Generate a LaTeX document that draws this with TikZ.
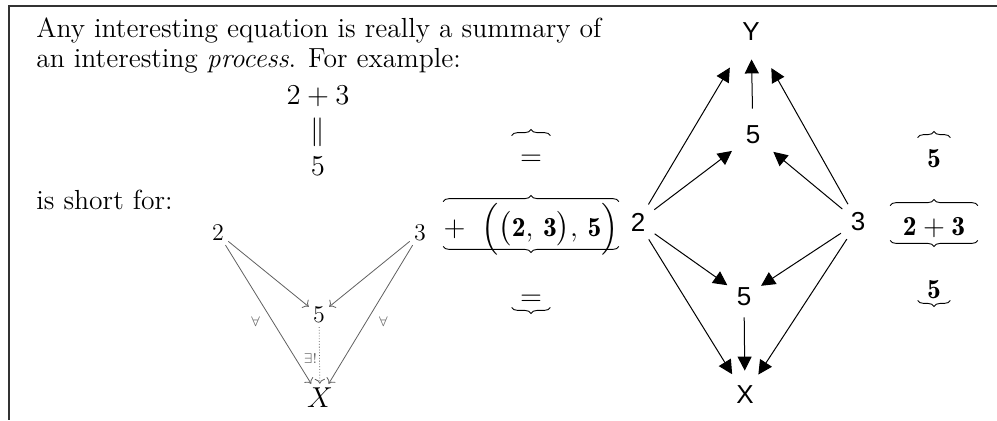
\documentclass[tikz,border=0pt]{standalone}
\usepackage{fontspec}
\usepackage{amsmath}
\newfontfamily\diagfont{Liberation Sans}
\usetikzlibrary{arrows.meta,decorations.pathreplacing}

\begin{document}
\begin{tikzpicture}[x=0.5pt,y=-0.5pt,
  txt/.style={anchor=base west, inner sep=0pt, font=\fontsize{13.8}{16}\selectfont},
  eqn/.style={anchor=base, inner sep=0pt, font=\fontsize{13.8}{16}\selectfont},
  bnum/.style={anchor=base, inner sep=0pt, text height=9pt, text depth=0pt,
    font=\fontsize{13.8}{16}\selectfont},
  brc/.style={decorate, decoration={brace, amplitude=3pt, raise=#1}, line width=0.45pt},
  obj/.style={inner sep=2pt, font=\fontsize{12.5}{14}\selectfont},
  garrow/.style={->, draw=gray!75!black},
  tag/.style={font=\scriptsize, text=gray!80!black, inner sep=1pt},
  dot/.style={circle, inner sep=0pt, font=\diagfont\fontsize{13}{15}\selectfont},
  barrow/.style={-{Triangle[length=7pt,width=7pt]}, line width=0.5pt}
]
\useasboundingbox (0,0) rectangle (997,420);

% frame
\draw[line width=1pt, black!80] (8,6) -- (997,6);
\draw[line width=1pt, black!80] (9,6) -- (9,420);

% text
\node[txt] (l1) at (36,37) {Any interesting equation is really a summary of};
\node[txt] (l2) at (36,67) {an interesting \emph{process}. For example:};
\node[eqn] (sum) at (318,104) {$2+3$};
\node[eqn] (eq) at (318,139) {$\|$};
\node[eqn] (res) at (318,175) {$5$};
\node[txt] (l3) at (36,209) {is short for:};

% universal property
\node[obj] (a) at (218,233) {$2$};
\node[obj] (b) at (420,233) {$3$};
\node[obj] (s) at (319,315) {$5$};
\node[obj, font=\fontsize{13.8}{16}\selectfont] (x) at (320,398) {$X$};
\draw[garrow] (a) -- (s);
\draw[garrow] (b) -- (s);
\draw[garrow] (a) -- (x) node[tag, pos=0.55, left=5pt] {$\forall$};
\draw[garrow] (b) -- (x) node[tag, pos=0.55, right=5pt] {$\forall$};
\draw[garrow, densely dotted] (s) -- (x) node[tag, pos=0.55, left] {$\exists!$};

% braces
\node[bnum, minimum width=19pt] (m1) at (531,165) {$=$};
\node[bnum, minimum width=72.5pt] (m2) at (531,236)
  {$+\;\;\Bigl(\bigl(\mathbf{2},\,\mathbf{3}\bigr),\,\mathbf{5}\Bigr)$};
\node[bnum, minimum width=19pt] (m3) at (531,305) {$=$};
\node[bnum, minimum width=16pt] (r1) at (934,167) {$\mathbf{5}$};
\node[bnum, minimum width=43.5pt] (r2) at (934,235) {$\mathbf{2}+\mathbf{3}$};
\node[bnum, minimum width=16pt] (r3) at (934,298) {$\mathbf{5}$};
\draw[brc=5.5pt] (m1.north west) -- (m1.north east);
\draw[brc=8pt] (m2.north west) -- (m2.north east);
\draw[brc=5pt] (m2.south east) -- (m2.south west);
\draw[brc=1pt] (m3.south east) -- (m3.south west);
\draw[brc=5.5pt] (r1.north west) -- (r1.north east);
\draw[brc=5.5pt] (r2.north west) -- (r2.north east);
\draw[brc=2.5pt] (r2.south east) -- (r2.south west);
\draw[brc=1pt] (r3.south east) -- (r3.south west);

% diamond of maps
\node[dot, minimum size=41pt] (y) at (751,32) {Y};
\node[dot, minimum size=26pt] (p) at (753,135) {5};
\node[dot, minimum size=20pt] (c) at (638,222) {2};
\node[dot, minimum size=20pt] (d) at (858,222) {3};
\node[dot, minimum size=20pt] (q) at (744,297) {5};
\node[dot, minimum size=24pt] (z) at (745,395) {X};
\draw[barrow] (c) -- (y);
\draw[barrow] (d) -- (y);
\draw[barrow, shorten >=-7pt] (p) -- (y);
\draw[barrow] (c) -- (p);
\draw[barrow] (d) -- (p);
\draw[barrow] (c) -- (q);
\draw[barrow] (d) -- (q);
\draw[barrow] (q) -- (z);
\draw[barrow] (c) -- (z);
\draw[barrow] (d) -- (z);

\end{tikzpicture}
\end{document}
